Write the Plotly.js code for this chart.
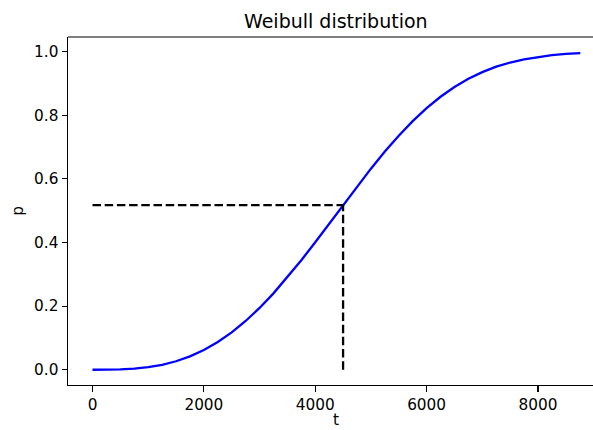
<!DOCTYPE html>
<html>
<head>
<meta charset="utf-8">
<script src="https://cdn.plot.ly/plotly-3.0.1.min.js"></script>
<style>html,body{margin:0;padding:0;overflow:hidden;background:#fff;}</style>
</head>
<body>
<div id="chart" style="width:593px;height:430px;"></div>
<script>
// Weibull CDF curve (t in hours, p probability)
const tValues = [0, 250, 500, 750, 1000, 1250, 1500, 1750, 2000, 2250, 2500, 2750, 3000, 3250, 3500, 3750, 4000, 4250, 4500, 4750, 5000, 5250, 5500, 5750, 6000, 6250, 6500, 6750, 7000, 7250, 7500, 7750, 8000, 8250, 8500, 8760];
const pValues = [0, 0.0001, 0.001, 0.0034, 0.008, 0.0155, 0.0266, 0.042, 0.062, 0.0871, 0.1175, 0.1533, 0.1943, 0.2401, 0.2904, 0.3442, 0.4007, 0.4589, 0.5176, 0.5757, 0.6321, 0.6858, 0.7358, 0.7815, 0.8224, 0.8582, 0.8889, 0.9146, 0.9357, 0.9526, 0.9658, 0.9759, 0.9834, 0.9888, 0.9927, 0.9954];
// Marked point (dashed guide lines)
const markT = 4500;
const markP = 0.5176;
const xTicks = [0, 2000, 4000, 6000, 8000];
const xTickLabels = ["0", "2000", "4000", "6000", "8000"];
const yTicks = [0, 0.2, 0.4, 0.6, 0.8, 1.0];
const yTickLabels = ["0.0", "0.2", "0.4", "0.6", "0.8", "1.0"];

const font = "DejaVu Sans, sans-serif";
const fs = 15.3;

const traces = [
  {
    x: tValues, y: pValues, type: "scatter", mode: "lines",
    line: {color: "#0000ff", width: 2.3}, hoverinfo: "skip"
  },
  {
    x: [0, markT], y: [markP, markP], type: "scatter", mode: "lines",
    line: {color: "#000000", width: 2.3, dash: "8.5px,3.7px"}, hoverinfo: "skip"
  },
  {
    x: [markT, markT], y: [0, markP], type: "scatter", mode: "lines",
    line: {color: "#000000", width: 2.3, dash: "8.5px,3.7px"}, hoverinfo: "skip"
  }
];

const layout = {
  width: 593, height: 430,
  margin: {l: 68, r: 0, t: 37, b: 45, pad: 0},
  paper_bgcolor: "#ffffff", plot_bgcolor: "#ffffff",
  showlegend: false,
  font: {family: font, size: fs, color: "#000000"},
  xaxis: {
    range: [-440, 8988],
    tickmode: "array", tickvals: xTicks, ticktext: xTickLabels,
    ticks: "outside", ticklen: 5.3, tickwidth: 1.2, tickcolor: "#000",
    showline: true, linecolor: "#000", linewidth: 1.2,
    showgrid: false, zeroline: false,
    tickfont: {family: font, size: fs, color: "#000"}
  },
  yaxis: {
    range: [-0.048, 1.046],
    tickmode: "array", tickvals: yTicks, ticktext: yTickLabels,
    ticks: "outside", ticklen: 5.3, tickwidth: 1.2, tickcolor: "#000",
    showline: true, linecolor: "#000", linewidth: 1.2,
    showgrid: false, zeroline: false,
    tickfont: {family: font, size: fs, color: "#000"},
    title: {text: "p", font: {family: font, size: fs, color: "#000"}, standoff: 6}
  },
  shapes: [{
    type: "line", xref: "paper", yref: "paper", x0: 0, x1: 1, y0: 1, y1: 1,
    line: {color: "#000", width: 1.2}
  }],
  annotations: [{
    text: "Weibull distribution", xref: "paper", yref: "paper",
    x: 0.5105, y: 1, xanchor: "center", yanchor: "bottom", yshift: 3,
    showarrow: false, font: {family: font, size: 19, color: "#000"}
  }, {
    text: "t", xref: "paper", yref: "paper",
    x: 0.5105, y: 0, xanchor: "center", yanchor: "bottom", yshift: -45, borderpad: 0,
    showarrow: false, font: {family: font, size: fs, color: "#000"}
  }]
};

Plotly.newPlot("chart", traces, layout, {displayModeBar: false, staticPlot: true});
</script>
</body>
</html>
